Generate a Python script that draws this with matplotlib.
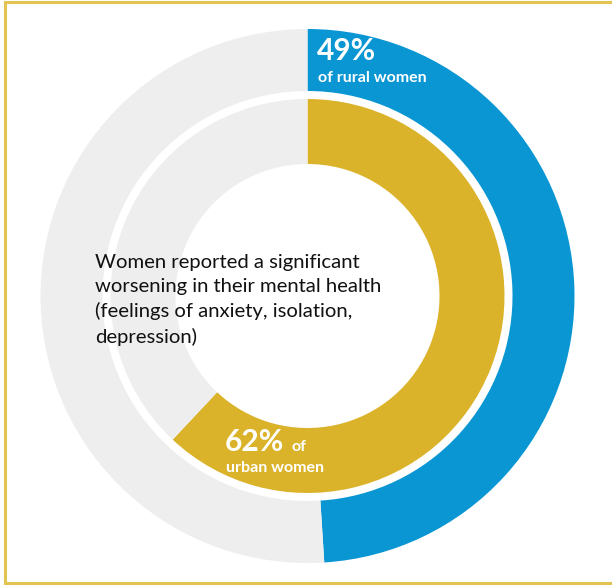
import matplotlib.pyplot as plt
from matplotlib.lines import Line2D

# Survey shares (percent of women reporting worse mental health)
groups = ['rural', 'urban']
shares = [49, 62]
caption = ('Women reported a significant\n'
           'worsening in their mental health\n'
           '(feelings of anxiety, isolation,\n'
           'depression)')

blue = '#0A96D3'
gold = '#DBB32B'
grey = '#EEEEEE'
frame = '#E3C352'

W, H = 612, 585
fig = plt.figure(figsize=(W / 100, H / 100), dpi=100)
ax = fig.add_axes([0, 0, 1, 1])

cx, cy = 307.5, H - 296

# outer ring: rural women
ax.pie([shares[0], 100 - shares[0]], colors=[blue, grey], radius=267,
       center=(cx, cy), startangle=90, counterclock=False,
       wedgeprops=dict(width=62, linewidth=0), frame=True)
# inner ring: urban women
ax.pie([shares[1], 100 - shares[1]], colors=[gold, grey], radius=197,
       center=(cx, cy), startangle=90, counterclock=False,
       wedgeprops=dict(width=65, linewidth=0), frame=True)
ax.set_xlim(0, W)
ax.set_ylim(0, H)
ax.set_aspect('equal')
ax.axis('off')

font = 'Lato'
ax.text(317, H - 60, f'{shares[0]}%', color='white', fontsize=21.5,
        fontweight='bold', family=font, va='baseline')
ax.text(318, H - 82, f'of {groups[0]} women', color='white', fontsize=11.5,
        fontweight='bold', family=font, va='baseline')

ax.text(225, H - 451, f'{shares[1]}%', color='white', fontsize=21.5,
        fontweight='bold', family=font, va='baseline')
ax.text(292, H - 451, 'of', color='white', fontsize=11.5,
        fontweight='bold', family=font, va='baseline')
ax.text(226, H - 472, f'{groups[1]} women', color='white', fontsize=11.5,
        fontweight='bold', family=font, va='baseline')

ax.text(95, H - 300, caption, color='#111111', fontsize=14.6, family=font,
        va='center', ha='left', linespacing=1.5)

# gold frame on top, left and bottom edges
for xs, ys in [([5, W], [H - 1.5, H - 1.5]),
               ([5, 5], [H - 1.5, H - 583]),
               ([5, W], [H - 583, H - 583])]:
    fig.add_artist(Line2D([x / W for x in xs], [y / H for y in ys],
                          color=frame, linewidth=2.2))

fig.savefig('out.png', dpi=100)
